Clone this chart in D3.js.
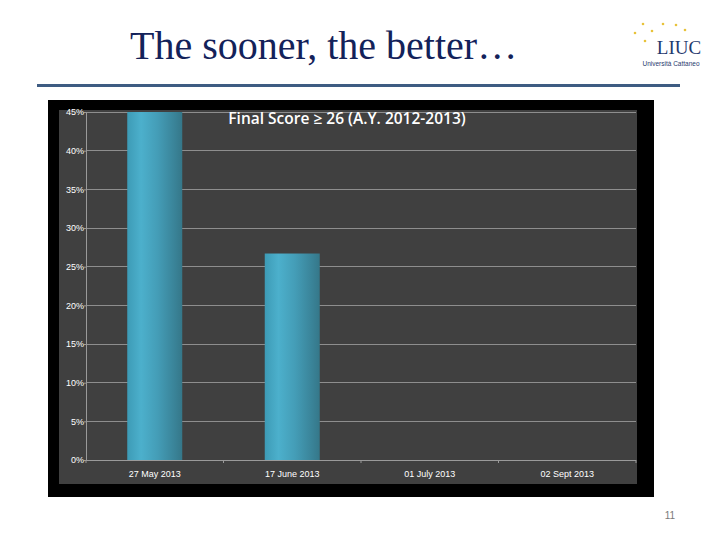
<!DOCTYPE html>
<html><head><meta charset="utf-8">
<script src="https://cdn.jsdelivr.net/npm/d3@7/dist/d3.min.js"></script>
<style>html,body{margin:0;padding:0;background:#fff;}svg{display:block;}</style>
</head><body>
<script>
const categories = ["27 May 2013", "17 June 2013", "01 July 2013", "02 Sept 2013"];
const values = [45, 26.7, 0, 0];
const yTicks = [0, 5, 10, 15, 20, 25, 30, 35, 40, 45];
const chartTitle = "Final Score \u2265 26 (A.Y. 2012-2013)";
const slideTitle = "The sooner, the better\u2026";
const pageNumber = "11";

(function(){
const W = 720, H = 540;
const svg = d3.select("body").append("svg").attr("width", W).attr("height", H);

// slide title
svg.append("text").attr("x", 130).attr("y", 59)
  .attr("font-family", "Liberation Serif, Times New Roman, serif").attr("font-size", 40)
  .attr("fill", "#13225a").text(slideTitle);
svg.append("rect").attr("x", 37).attr("y", 84).attr("width", 643).attr("height", 3).attr("fill", "#3e5c82");

// logo
const stars = [[635,33],[643,24],[652,31],[663,24],[676,25],[685,30],[645,41]];
svg.selectAll("circle.star").data(stars).join("circle").attr("class","star")
  .attr("cx", d => d[0]).attr("cy", d => d[1]).attr("r", 1.3).attr("fill", "#e8c23a");
svg.append("text").attr("x", 679).attr("y", 54).attr("text-anchor","middle")
  .attr("font-family","Liberation Serif, serif").attr("font-size", 19).attr("fill","#1f3a6e").text("LIUC");
svg.append("text").attr("x", 671).attr("y", 66).attr("text-anchor","middle")
  .attr("font-family","Liberation Sans, Arial, sans-serif").attr("font-size", 6.5).attr("fill","#1f3a6e").text("Universit\u00e0 Cattaneo");

// page number
svg.append("text").attr("x", 670).attr("y", 519).attr("text-anchor","middle")
  .attr("font-family","Liberation Sans, Arial, sans-serif").attr("font-size", 10).attr("fill","#7a7a7a").text(pageNumber);

// chart frame
svg.append("rect").attr("x", 48).attr("y", 100).attr("width", 606).attr("height", 397).attr("fill", "#000");
svg.append("rect").attr("x", 59).attr("y", 110).attr("width", 578).attr("height", 374).attr("fill", "#404040");

const pL = 86, pR = 636, pT = 112, pB = 460;
const x = d3.scaleBand().domain(categories).range([pL, pR]).paddingInner(0.6).paddingOuter(0.3);
const xb = d3.scaleBand().domain(categories).range([pL, pR]).padding(0);
const y = d3.scaleLinear().domain([0, 45]).range([pB, pT]);

const defs = svg.append("defs");
const g = defs.append("linearGradient").attr("id","barGrad").attr("x1","0").attr("x2","1").attr("y1","0").attr("y2","0");
[[0,"#3d9bb6"],[0.25,"#4cb0cc"],[0.55,"#449db7"],[0.85,"#3a8499"],[1,"#357789"]]
  .forEach(s => g.append("stop").attr("offset", s[0]).attr("stop-color", s[1]));

// gridlines
svg.append("g").selectAll("line").data(yTicks.filter(t => t > 0)).join("line")
  .attr("x1", pL).attr("x2", pR).attr("y1", d => y(d)).attr("y2", d => y(d))
  .attr("stroke", "#8e8e8e").attr("stroke-width", 1).attr("shape-rendering","crispEdges");

// bars
svg.append("g").selectAll("rect").data(categories.map((c,i)=>({c, v: values[i]}))).join("rect")
  .attr("x", d => x(d.c)).attr("width", x.bandwidth())
  .attr("y", d => y(d.v)).attr("height", d => y(0) - y(d.v))
  .attr("fill", "url(#barGrad)");

// y axis
const yAxis = d3.axisLeft(y).tickValues(yTicks).tickSize(2).tickFormat(d => d + "%");
const ya = svg.append("g").attr("transform", `translate(${pL},0)`).call(yAxis);
ya.select(".domain").attr("stroke", "#9a9a9a");
ya.selectAll(".tick line").attr("stroke", "#9a9a9a");
ya.selectAll(".tick text").attr("fill", "#fff").attr("font-size", 9)
  .attr("font-family", "Liberation Sans Narrow, Liberation Sans, Arial, sans-serif").attr("x", -2);

// x axis
svg.append("line").attr("x1", pL).attr("x2", pR).attr("y1", pB).attr("y2", pB)
  .attr("stroke", "#9a9a9a").attr("shape-rendering","crispEdges");
const bounds = categories.map(c => xb(c)).concat([xb.range()[1]]);
svg.append("g").selectAll("line").data(bounds).join("line")
  .attr("x1", d => d).attr("x2", d => d).attr("y1", pB).attr("y2", pB + 3)
  .attr("stroke", "#9a9a9a");
svg.append("g").selectAll("text").data(categories).join("text")
  .attr("x", d => x(d) + x.bandwidth()/2).attr("y", 477).attr("text-anchor","middle")
  .attr("fill","#fff").attr("font-size", 9).attr("font-family","Liberation Sans, Arial, sans-serif")
  .text(d => d);

// chart title
svg.append("text").attr("x", 347).attr("y", 124).attr("text-anchor","middle")
  .attr("fill","#fff").attr("font-size", 15.5).attr("font-weight", 600)
  .attr("font-family","Open Sans, Liberation Sans, Arial, sans-serif").text(chartTitle);
})();
</script>
</body></html>
